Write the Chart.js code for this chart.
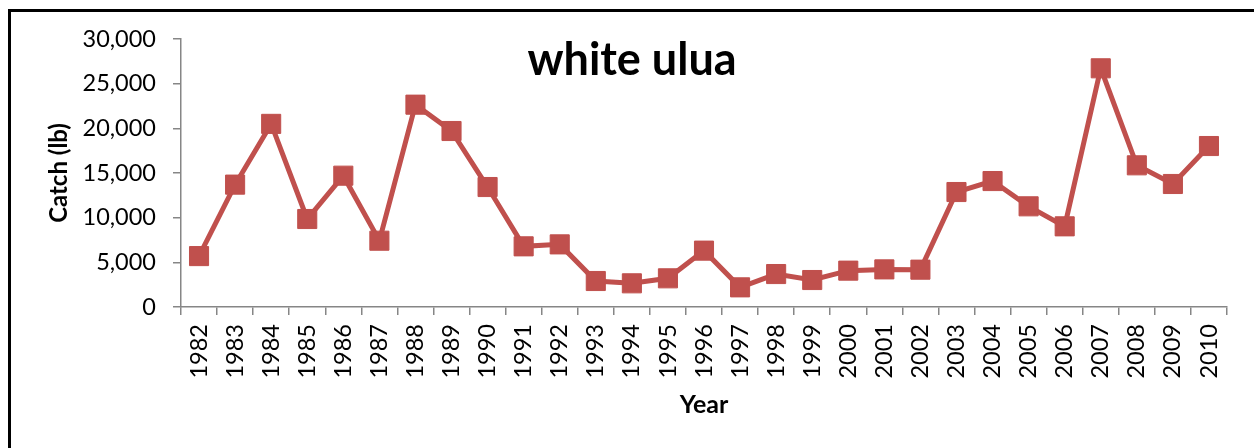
<!DOCTYPE html>
<html>
<head>
<meta charset="utf-8">
<script src="https://cdn.jsdelivr.net/npm/chart.js@4.4.1/dist/chart.umd.min.js"></script>
<style>
  html, body { margin: 0; padding: 0; background: #fff; overflow: hidden; }
  #wrap { position: relative; width: 1254px; height: 448px; }
  #frame { position: absolute; left: 8px; top: 9px; width: 1300px; height: 500px; border: 3px solid #000; }
  #catchChart { position: absolute; left: 0; top: 0; }
</style>
</head>
<body>
<div id="wrap">
  <div id="frame"></div>
  <canvas id="catchChart" width="1254" height="448"></canvas>
</div>
<script>
// Data
const years = ['1982', '1983', '1984', '1985', '1986', '1987', '1988', '1989', '1990', '1991',
  '1992', '1993', '1994', '1995', '1996', '1997', '1998', '1999', '2000', '2001',
  '2002', '2003', '2004', '2005', '2006', '2007', '2008', '2009', '2010'];
const catchLb = [5700, 13700, 20500, 9850, 14700, 7420, 22650, 19700, 13430, 6790,
  7010, 2910, 2650, 3210, 6310, 2200, 3690, 3020, 4070, 4210,
  4180, 12870, 14100, 11270, 9030, 26720, 15860, 13770, 18020];
const chartTitle = 'white ulua';

const LINE_RED = '#C0504D';
const AXIS_GRAY = '#868686';
const FONT = 'Lato, "Open Sans", "Liberation Sans", sans-serif';

// Title sits inside the plot area, like the spreadsheet original
const insideTitle = {
    id: 'insideTitle',
    afterDraw(chart) {
        const ctx = chart.ctx;
        ctx.save();
        ctx.font = 'bold 45px ' + FONT;
        ctx.fillStyle = '#000';
        ctx.textAlign = 'center';
        ctx.textBaseline = 'alphabetic';
        ctx.fillText(chartTitle, 632, 75);
        ctx.restore();
    }
};

const ctx = document.getElementById('catchChart').getContext('2d');
new Chart(ctx, {
    type: 'line',
    data: {
        labels: years,
        datasets: [{
            label: 'Catch (lb)',
            data: catchLb,
            borderColor: LINE_RED,
            backgroundColor: LINE_RED,
            borderWidth: 5,
            tension: 0,
            pointStyle: 'rect',
            pointRadius: 13.5,
            pointHoverRadius: 13.5,
            pointBackgroundColor: LINE_RED,
            pointBorderColor: LINE_RED,
            pointBorderWidth: 1
        }]
    },
    options: {
        responsive: false,
        animation: false,
        layout: { padding: { left: 0, right: 27, top: 39, bottom: 0 } },
        plugins: {
            legend: { display: false },
            title: { display: false },
            tooltip: { enabled: false }
        },
        scales: {
            x: {
                offset: true,
                grid: { offset: true, drawOnChartArea: false, tickLength: 8, color: AXIS_GRAY, lineWidth: 1.5 },
                border: { color: AXIS_GRAY, width: 1.5 },
                ticks: {
                    color: '#000',
                    font: { family: FONT, size: 23.5 },
                    minRotation: 90,
                    maxRotation: 90,
                    autoSkip: false,
                    padding: 9
                },
                title: {
                    display: true,
                    text: 'Year',
                    color: '#000',
                    font: { family: FONT, size: 25, weight: 'bold' },
                    padding: { top: 0, bottom: 28 }
                },
                afterFit(scale) { scale.height = 141; }
            },
            y: {
                min: 0,
                max: 30000,
                grid: { drawOnChartArea: false, tickLength: 8, color: AXIS_GRAY, lineWidth: 1.5 },
                border: { color: AXIS_GRAY, width: 1.5 },
                ticks: {
                    stepSize: 5000,
                    color: '#000',
                    font: { family: FONT, size: 23.5 },
                    padding: 17,
                    callback: v => v.toLocaleString('en-US')
                },
                title: {
                    display: true,
                    text: 'Catch (lb)',
                    color: '#000',
                    font: { family: FONT, size: 24, weight: 'bold' },
                    padding: { top: 45, bottom: 0 }
                },
                afterFit(scale) { scale.width = 181; }
            }
        }
    },
    plugins: [insideTitle]
});
</script>
</body>
</html>
